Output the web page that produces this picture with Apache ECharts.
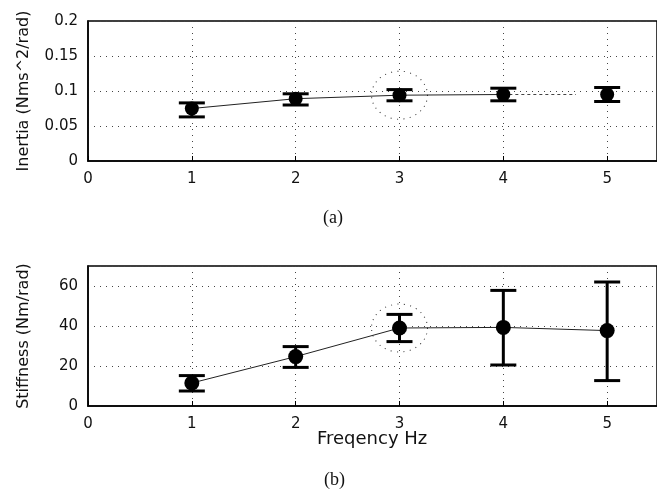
<!DOCTYPE html>
<html>
<head>
<meta charset="utf-8">
<script src="https://cdn.jsdelivr.net/npm/echarts@6/dist/echarts.min.js"></script>
<style>html,body{margin:0;padding:0;background:#fff}#c{width:657px;height:494px}</style>
</head>
<body>
<div id="c"></div>
<script>
// ---- data ----
var freq = [1, 2, 3, 4, 5];
var inertiaMean = [0.075, 0.089, 0.094, 0.095, 0.095];
var inertiaLow  = [0.063, 0.080, 0.086, 0.086, 0.085];
var inertiaHigh = [0.083, 0.096, 0.102, 0.104, 0.105];
var inertiaFitX = [1, 2, 3, 4, 4.7];
var inertiaFitY = [0.075, 0.089, 0.094, 0.095, 0.095];
var stiffMean = [11.5, 24.7, 39, 39.3, 37.7];
var stiffLow  = [7.5, 19.3, 32.2, 20.5, 12.7];
var stiffHigh = [15.2, 29.7, 45.8, 57.8, 62];
var highlightIndex = 2; // circled point (3 Hz)
var xTicks = [0, 1, 2, 3, 4, 5];
var inertiaTicks = [0, 0.05, 0.1, 0.15, 0.2];
var stiffTicks = [0, 20, 40, 60];

var chart = echarts.init(document.getElementById('c'));
var FONT = '"DejaVu Sans", "Liberation Sans", Arial, sans-serif';

function errData(lo, hi) {
  return freq.map(function (x, i) { return [x, lo[i], hi[i]]; });
}
function renderErr(params, api) {
  var x = api.value(0);
  var lo = api.coord([x, api.value(1)]);
  var hi = api.coord([x, api.value(2)]);
  var half = 13;
  var st = { stroke: '#000', lineWidth: 3 };
  return {
    type: 'group',
    children: [
      { type: 'line', shape: { x1: lo[0], y1: lo[1], x2: hi[0], y2: hi[1] }, style: st },
      { type: 'line', shape: { x1: lo[0] - half, y1: lo[1], x2: lo[0] + half, y2: lo[1] }, style: st },
      { type: 'line', shape: { x1: hi[0] - half, y1: hi[1], x2: hi[0] + half, y2: hi[1] }, style: st }
    ]
  };
}
function pairs(xs, ys) { return xs.map(function (x, i) { return [x, ys[i]]; }); }

var splitStyle = { show: true, lineStyle: { color: '#444', type: [1, 5], width: 1 } };
function xAxis(gi) {
  return {
    type: 'value', gridIndex: gi, min: 0, max: 5.48, interval: 1,
    axisLine: { show: true, onZero: false, lineStyle: { color: '#000', width: 1.5 } },
    axisTick: { show: true, inside: true, length: 5, lineStyle: { color: '#000' } },
    axisLabel: { color: '#111', fontFamily: FONT, fontSize: 15, margin: 11, showMaxLabel: false,
      formatter: function (v) { return xTicks.indexOf(v) >= 0 ? String(v) : ''; } },
    splitLine: splitStyle
  };
}
function yAxis(gi, max, interval, name, ticks) {
  return {
    type: 'value', gridIndex: gi, min: 0, max: max, interval: interval,
    name: name, nameLocation: 'middle', nameGap: 56,
    nameTextStyle: { color: '#111', fontFamily: FONT, fontSize: 16 },
    axisLine: { show: true, lineStyle: { color: '#000', width: 1.5 } },
    axisTick: { show: false },
    axisLabel: { color: '#111', fontFamily: FONT, fontSize: 15, margin: 10,
      formatter: function (v) { return ticks.indexOf(v) >= 0 ? String(v) : ''; } },
    splitLine: splitStyle
  };
}

chart.setOption({
  animation: false,
  backgroundColor: '#fff',
  grid: [
    { left: 88, top: 21, width: 570, height: 140, show: true, borderColor: '#000', borderWidth: 1.5 },
    { left: 88, top: 266, width: 570, height: 140, show: true, borderColor: '#000', borderWidth: 1.5 }
  ],
  xAxis: [xAxis(0), xAxis(1)],
  yAxis: [
    yAxis(0, 0.2, 0.05, 'Inertia (Nms^2/rad)', inertiaTicks),
    yAxis(1, 70, 20, 'Stiffness (Nm/rad)', stiffTicks)
  ],
  graphic: [
    { type: 'text', left: 323, top: 209, style: { text: '(a)', font: '18px "Liberation Serif", "Times New Roman", serif', fill: '#111' } },
    { type: 'text', left: 324, top: 471, style: { text: '(b)', font: '18px "Liberation Serif", "Times New Roman", serif', fill: '#111' } },
    { type: 'text', left: 317, top: 430, style: { text: 'Freqency Hz', font: '18px "DejaVu Sans", "Liberation Sans", Arial, sans-serif', fill: '#111' } }
  ],
  series: [
    // top chart
    { type: 'line', xAxisIndex: 0, yAxisIndex: 0, data: pairs(inertiaFitX.slice(0, 4), inertiaFitY.slice(0, 4)),
      symbol: 'none', lineStyle: { color: '#222', width: 1 }, z: 2 },
    { type: 'line', xAxisIndex: 0, yAxisIndex: 0, data: pairs(inertiaFitX.slice(3), inertiaFitY.slice(3)),
      symbol: 'none', lineStyle: { color: '#444', width: 1, type: [3, 3] }, z: 2 },
    { type: 'custom', xAxisIndex: 0, yAxisIndex: 0, data: errData(inertiaLow, inertiaHigh), renderItem: renderErr, z: 3 },
    { type: 'scatter', xAxisIndex: 0, yAxisIndex: 0, data: pairs(freq, inertiaMean), symbol: 'circle', symbolSize: 14,
      itemStyle: { color: '#000', opacity: 1 }, z: 4 },
    { type: 'scatter', xAxisIndex: 0, yAxisIndex: 0, data: [[freq[highlightIndex], inertiaMean[highlightIndex]]],
      symbol: 'circle', symbolSize: [56, 48], silent: true,
      itemStyle: { color: 'rgba(0,0,0,0)', opacity: 1, borderColor: '#333', borderWidth: 1, borderType: [1, 5] }, z: 1 },
    // bottom chart
    { type: 'line', xAxisIndex: 1, yAxisIndex: 1, data: pairs(freq, stiffMean),
      symbol: 'none', lineStyle: { color: '#222', width: 1 }, z: 2 },
    { type: 'custom', xAxisIndex: 1, yAxisIndex: 1, data: errData(stiffLow, stiffHigh), renderItem: renderErr, z: 3 },
    { type: 'scatter', xAxisIndex: 1, yAxisIndex: 1, data: pairs(freq, stiffMean), symbol: 'circle', symbolSize: 15,
      itemStyle: { color: '#000', opacity: 1 }, z: 4 },
    { type: 'scatter', xAxisIndex: 1, yAxisIndex: 1, data: [[freq[highlightIndex], stiffMean[highlightIndex]]],
      symbol: 'circle', symbolSize: [56, 48], silent: true,
      itemStyle: { color: 'rgba(0,0,0,0)', opacity: 1, borderColor: '#333', borderWidth: 1, borderType: [1, 5] }, z: 1 }
  ]
});
</script>
</body>
</html>
